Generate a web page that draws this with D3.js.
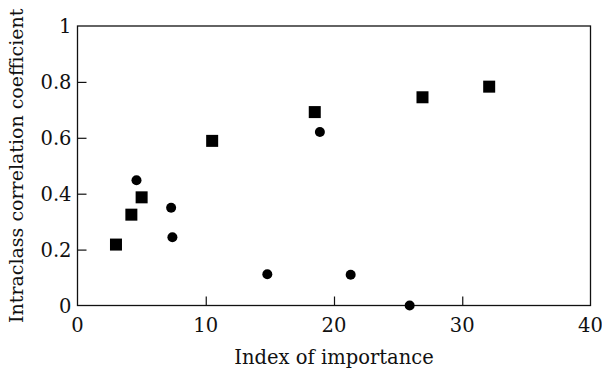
<!DOCTYPE html>
<html><head><meta charset="utf-8">
<script src="https://cdn.jsdelivr.net/npm/d3@7"></script>
<style>body{margin:0;background:#fff}svg{display:block}text{font-family:"DejaVu Serif",serif;fill:#111}</style>
</head><body><svg id="c" width="602" height="369"></svg>
<script>
const xTicks = [0, 10, 20, 30, 40];
const yTicks = [0, 0.2, 0.4, 0.6, 0.8, 1];
const yTickLabels = ["0", "0.2", "0.4", "0.6", "0.8", "1"];
const squareX = [3.0, 4.2, 5.0, 10.5, 18.5, 26.9, 32.1];
const squareY = [0.218, 0.325, 0.387, 0.589, 0.692, 0.745, 0.783];
const circleX = [4.6, 7.3, 7.4, 14.8, 18.9, 21.3, 25.9];
const circleY = [0.448, 0.350, 0.244, 0.112, 0.621, 0.110, 0.0];
const xTitle = "Index of importance";
const yTitle = "Intraclass correlation coefficient";

const svg = d3.select("#c");
const L = 77.5, R = 590.5, T = 26, B = 305.5;
const x = d3.scaleLinear().domain([0, 40]).range([L, R]);
const y = d3.scaleLinear().domain([0, 1]).range([B, T]);

const xAxis = svg.append("g").attr("transform", `translate(0,${B})`)
  .call(d3.axisTop(x).tickValues(xTicks).tickSize(9).tickFormat(""));
const yAxis = svg.append("g").attr("transform", `translate(${L},0)`)
  .call(d3.axisRight(y).tickValues(yTicks).tickSize(9).tickFormat(""));
[xAxis, yAxis].forEach(g => {
  g.select(".domain").remove();
  g.selectAll("line").attr("stroke", "#111").attr("stroke-width", 1.2);
});
xAxis.selectAll(".tick").filter(d => d === 0 || d === 40).remove();
yAxis.selectAll(".tick").filter(d => d === 0 || d === 1).remove();

svg.append("rect").attr("x", L).attr("y", T).attr("width", R - L).attr("height", B - T)
  .attr("fill", "none").attr("stroke", "#111").attr("stroke-width", 1.3);

svg.append("g").selectAll("text").data(xTicks).join("text")
  .attr("x", d => x(d)).attr("y", B + 26).attr("text-anchor", "middle")
  .attr("font-size", 19.5).text(d => d);
svg.append("g").selectAll("text").data(yTicks).join("text")
  .attr("x", L - 6).attr("y", d => y(d)).attr("dy", "0.36em").attr("text-anchor", "end")
  .attr("font-size", 19.5).text((d, i) => yTickLabels[i]);

svg.append("text").attr("x", (L + R) / 2).attr("y", 364).attr("text-anchor", "middle")
  .attr("font-size", 19.5).text(xTitle);
svg.append("text").attr("transform", `translate(23,${(T + B) / 2}) rotate(-90)`)
  .attr("text-anchor", "middle").attr("font-size", 19).text(yTitle);

const sq = 12;
svg.append("g").selectAll("rect").data(squareX).join("rect")
  .attr("x", (d) => x(d) - sq / 2).attr("y", (d, i) => y(squareY[i]) - sq / 2)
  .attr("width", sq).attr("height", sq).attr("fill", "#000");
svg.append("g").selectAll("circle").data(circleX).join("circle")
  .attr("cx", d => x(d)).attr("cy", (d, i) => y(circleY[i])).attr("r", 5).attr("fill", "#000");
</script></body></html>
